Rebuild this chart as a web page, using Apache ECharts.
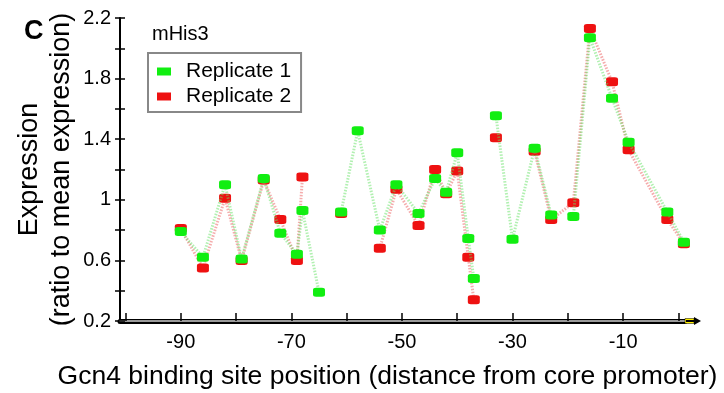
<!DOCTYPE html>
<html>
<head>
<meta charset="utf-8">
<script src="https://cdn.jsdelivr.net/npm/echarts@6/dist/echarts.min.js"></script>
<style>
  html, body { margin: 0; padding: 0; background: #fff; }
  #chart { width: 724px; height: 393px; }
</style>
</head>
<body>
<div id="chart"></div>
<script>
// Gcn4 binding site position (bp upstream of the core promoter)
const positions = [-90, -86, -82, -79, -75, -72, -69, -68, -65, -61, -58, -54, -51, -47, -44, -42, -40, -38, -37, -33, -30, -26, -23, -19, -16, -12, -9, -2, 1];

// Expression, ratio to mean expression (null = not measured)
const replicate1 = [0.79, 0.62, 1.10, 0.61, 1.14, 0.78, 0.64, 0.93, 0.39, 0.92, 1.455, 0.80, 1.10, 0.91, 1.14, 1.05, 1.31, 0.745, 0.48, 1.555, 0.74, 1.34, 0.90, 0.89, 2.07, 1.67, 1.38, 0.92, 0.72];
const replicate2 = [0.81, 0.55, 1.01, 0.60, 1.13, 0.87, 0.60, 1.15, null, 0.91, null, 0.68, 1.07, 0.83, 1.20, 1.04, 1.19, 0.62, 0.34, 1.41, null, 1.32, 0.87, 0.98, 2.13, 1.78, 1.33, 0.87, 0.71];

// Places where the connecting line is interrupted
const breaks1 = [-63, -35, -21];
const breaks2 = [-35];

const xTicks = [-100, -90, -80, -70, -60, -50, -40, -30, -20, -10, 0];
const xLabels = [-90, -70, -50, -30, -10];
const yTicks = [0.2, 0.4, 0.6, 0.8, 1.0, 1.2, 1.4, 1.6, 1.8, 2.0, 2.2];
const yLabels = [0.2, 0.6, 1.0, 1.4, 1.8, 2.2];

const FONT = "'Liberation Sans', Arial, sans-serif";

function buildData(values, breaks) {
  const pts = positions.map((p, i) => [p, values[i]]);
  breaks.forEach(b => pts.push([b, null]));
  pts.sort((a, b) => a[0] - b[0]);
  return pts;
}

const chart = echarts.init(document.getElementById('chart'), null, { renderer: 'canvas' });

const xMin = -101, xMax = 1.2;
const yMin = 0.2, yMax = 2.2;

// Shared y scale; the second axis only adds the inward half of each tick
const yBase = { type: 'value', min: yMin, max: yMax, position: 'left', offset: 0, splitLine: { show: false } };

const option = {
  animation: false,
  backgroundColor: '#fff',
  title: [
    { text: 'C', left: 19, top: 13, textStyle: { fontFamily: FONT, fontSize: 27, fontWeight: 'bold', color: '#000' } },
    { text: 'mHis3', left: 147, top: 19, textStyle: { fontFamily: FONT, fontSize: 20, fontWeight: 'normal', color: '#000' } }
  ],
  legend: {
    orient: 'vertical',
    left: 148,
    top: 53,
    padding: [8, 10, 5, 9],
    borderColor: '#888',
    borderWidth: 2,
    borderRadius: 0,
    itemWidth: 14,
    itemHeight: 8,
    itemGap: 4,
    icon: 'rect',
    textStyle: { fontFamily: FONT, fontSize: 21, color: '#000', lineHeight: 21, padding: [0, 0, 0, 10] },
    data: ['Replicate 1', 'Replicate 2']
  },
  grid: { left: 120, right: 39, top: 18, bottom: 72, containLabel: false, outerBoundsMode: 'none' },
  xAxis: [
    {
      type: 'value',
      min: xMin,
      max: xMax,
      position: 'bottom',
      name: 'Gcn4 binding site position (distance from core promoter)',
      nameLocation: 'middle',
      nameGap: 42,
      nameMoveOverlap: false,
      nameTextStyle: { fontFamily: FONT, fontSize: 26.5, color: '#000', padding: [0, 30, 0, 0] },
      axisLine: { show: true, onZero: false, lineStyle: { color: '#000', width: 5 } },
      axisTick: { show: true, inside: true, length: 8, lineStyle: { color: '#000', width: 1.5 }, customValues: xTicks },
      axisLabel: { show: true, margin: 11, fontFamily: FONT, fontSize: 20, color: '#000', customValues: xLabels },
      splitLine: { show: false }
    },
    {
      type: 'value',
      min: xMin,
      max: xMax,
      position: 'bottom',
      axisLine: { show: true, onZero: false, lineStyle: { color: '#9a9a9a', width: 2 } },
      axisTick: { show: false },
      axisLabel: { show: false },
      splitLine: { show: false }
    }
  ],
  yAxis: [
    Object.assign({}, yBase, {
      name: 'Expression\n(ratio to mean expression)',
      nameLocation: 'middle',
      nameRotate: 90,
      nameGap: 42,
      nameMoveOverlap: false,
      nameTextStyle: { fontFamily: FONT, fontSize: 27, color: '#000', lineHeight: 32 },
      axisLine: { show: true, onZero: false, lineStyle: { color: '#000', width: 2 } },
      axisTick: { show: true, length: 5, lineStyle: { color: '#000', width: 1.5 }, customValues: yTicks },
      axisLabel: {
        margin: 9,
        fontFamily: FONT,
        fontSize: 20,
        color: '#000',
        customValues: yLabels,
        formatter: v => String(+(+v).toFixed(1))
      }
    }),
    Object.assign({}, yBase, {
      axisLine: { show: false, onZero: false },
      axisTick: { show: true, inside: true, length: 5, lineStyle: { color: '#000', width: 1.5 }, customValues: yTicks },
      axisLabel: { show: false }
    })
  ],
  series: [
    {
      name: 'Replicate 2',
      type: 'line',
      data: buildData(replicate2, breaks2),
      connectNulls: false,
      symbol: 'roundRect',
      symbolSize: [12, 9],
      showAllSymbol: true,
      itemStyle: { color: '#ee1111' },
      lineStyle: { color: 'rgba(235,90,90,0.5)', width: 3, type: [1.5, 1.5] },
      z: 3
    },
    {
      name: 'Replicate 1',
      type: 'line',
      data: buildData(replicate1, breaks1),
      connectNulls: false,
      symbol: 'roundRect',
      symbolSize: [12, 9],
      showAllSymbol: true,
      itemStyle: { color: '#11ee11' },
      lineStyle: { color: 'rgba(100,225,100,0.5)', width: 3, type: [1.5, 1.5] },
      z: 4
    }
  ]
};

chart.setOption(option);

// Arrow at the right end of the x axis
const end = chart.convertToPixel({ xAxisIndex: 0, yAxisIndex: 0 }, [xMax, yMin]);
chart.setOption({
  graphic: [
    { type: 'rect', shape: { x: end[0], y: end[1] - 2.5, width: 9, height: 5 }, style: { fill: '#ffee00', stroke: '#000', lineWidth: 0.5 }, z: 10 },
    { type: 'line', shape: { x1: end[0] + 1, y1: end[1], x2: end[0] + 13, y2: end[1] }, style: { stroke: '#000', lineWidth: 2 }, z: 11 },
    { type: 'polygon', shape: { points: [[end[0] + 9, end[1] - 4], [end[0] + 16, end[1]], [end[0] + 9, end[1] + 4]] }, style: { fill: '#000' }, z: 11 }
  ]
});
</script>
</body>
</html>
